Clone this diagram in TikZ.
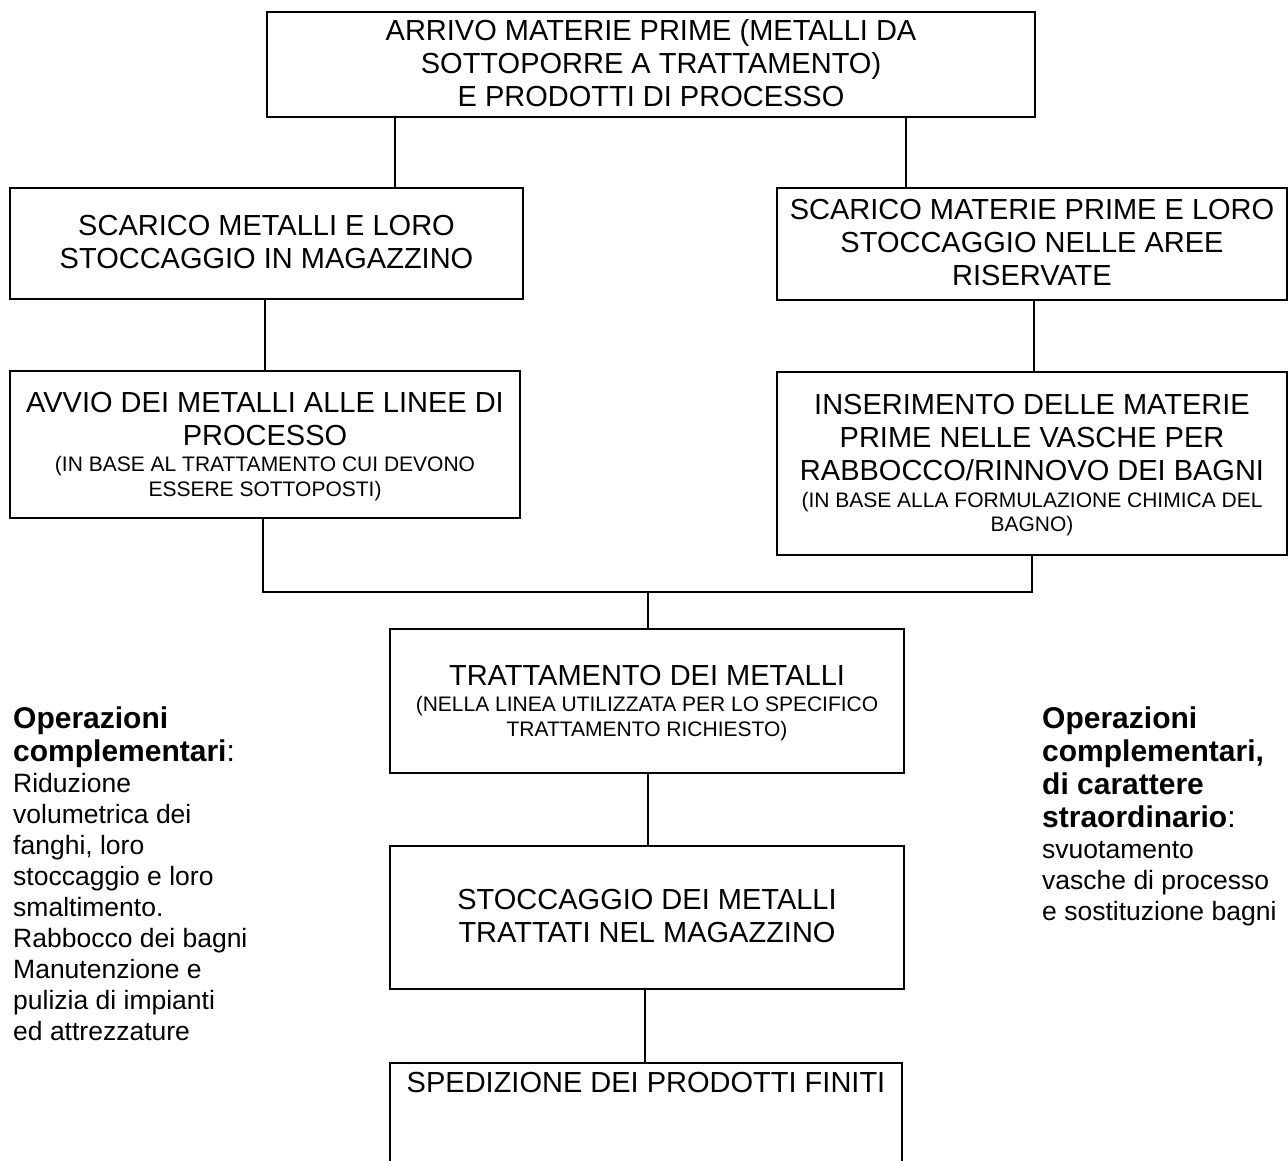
\documentclass[tikz,border=0pt]{standalone}
\usepackage{fontspec}
\setmainfont{Liberation Sans}
\usepackage{array}
\renewcommand{\arraystretch}{0}
\newcommand\mainf{\fontsize{29}{33}\selectfont}
\newcommand\smallf{\fontsize{21}{24.5}\selectfont}
\newcommand\ML[1]{\mainf\rule[-8pt]{0pt}{33pt}#1}
\newcommand\SL[1]{\smallf\rule[-6pt]{0pt}{24.5pt}#1}
\newcommand\BLn[1]{\fontsize{30}{33}\selectfont\rule[-8pt]{0pt}{33pt}#1}
\newcommand\RLn[1]{\fontsize{26.5}{31}\selectfont\rule[-8pt]{0pt}{31pt}#1}
\newcommand\stackc[1]{\begin{tabular}{@{}c@{}}#1\end{tabular}}
\newcommand\stackl[1]{\begin{tabular}{@{}l@{}}#1\end{tabular}}
\tikzset{
  box/.style={draw, line width=1.5pt, rectangle, inner sep=0pt, align=center},
  conn/.style={line width=1.1pt},
  side/.style={anchor=north west, inner sep=0pt, align=left}
}
\begin{document}
\begin{tikzpicture}[x=1pt,y=-1pt]
\useasboundingbox (0,0) rectangle (1288,1160);
\clip (0,0) rectangle (1288,1160);
\fill[white] (0,0) rectangle (1288,1160);

\node[box, minimum width=768pt, minimum height=105pt] (top) at (651,64.5)
  {\stackc{\ML{ARRIVO MATERIE PRIME (METALLI DA}\\\ML{SOTTOPORRE A TRATTAMENTO)}\\\ML{E PRODOTTI DI PROCESSO}}};
\node[box, minimum width=513pt, minimum height=111pt] (L2) at (266.5,243.5)
  {\stackc{\ML{SCARICO METALLI E LORO}\\\ML{STOCCAGGIO IN MAGAZZINO}}};
\node[box, minimum width=510pt, minimum height=112pt] (R2) at (1032,244)
  {\stackc{\ML{SCARICO MATERIE PRIME E LORO}\\\ML{STOCCAGGIO NELLE AREE}\\\ML{RISERVATE}}};
\node[box, minimum width=510pt, minimum height=147pt] (L3) at (265,444.5)
  {\stackc{\ML{AVVIO DEI METALLI ALLE LINEE DI}\\\ML{PROCESSO}\\\SL{(IN BASE AL TRATTAMENTO CUI DEVONO}\\\SL{ESSERE SOTTOPOSTI)}}};
\node[box, minimum width=510pt, minimum height=183pt] (R3) at (1032,463.5)
  {\stackc{\ML{INSERIMENTO DELLE MATERIE}\\\ML{PRIME NELLE VASCHE PER}\\\ML{RABBOCCO/RINNOVO DEI BAGNI}\\\SL{(IN BASE ALLA FORMULAZIONE CHIMICA DEL}\\\SL{BAGNO)}}};
\node[box, minimum width=514pt, minimum height=144pt] (C) at (647,701)
  {\stackc{\ML{TRATTAMENTO DEI METALLI}\\\SL{(NELLA LINEA UTILIZZATA PER LO SPECIFICO}\\\SL{TRATTAMENTO RICHIESTO)}}};
\node[box, minimum width=514pt, minimum height=143pt] (S) at (647,917.5)
  {\stackc{\ML{STOCCAGGIO DEI METALLI}\\\ML{TRATTATI NEL MAGAZZINO}}};
\node[box, minimum width=512pt, inner ysep=5pt, anchor=north] (P) at (646,1062)
  {\stackc{\ML{SPEDIZIONE DEI PRODOTTI FINITI}\\\rule{0pt}{90pt}}};

\coordinate (a1) at (395,0);
\coordinate (a2) at (906,0);
\coordinate (a3) at (265,0);
\coordinate (a4) at (1034,0);
\coordinate (jl) at (263,592);
\coordinate (jr) at (1032,592);
\coordinate (jc) at (648,592);
\coordinate (a5) at (648,0);
\coordinate (a6) at (645,0);

\draw[conn] (top.south -| a1) -- (L2.north -| a1);
\draw[conn] (top.south -| a2) -- (R2.north -| a2);
\draw[conn] (L2.south -| a3) -- (L3.north -| a3);
\draw[conn] (R2.south -| a4) -- (R3.north -| a4);
\draw[conn] (L3.south -| jl) -- (jl) -- (jr) -- (R3.south -| jr);
\draw[conn] (jc) -- (C.north -| jc);
\draw[conn] (C.south -| a5) -- (S.north -| a5);
\draw[conn] (S.south -| a6) -- (P.north -| a6);

\node[side] (opl) at (13,703)
  {\stackl{\BLn{\textbf{Operazioni}}\\\BLn{\textbf{complementari}:}\\\RLn{Riduzione}\\\RLn{volumetrica dei}\\\RLn{fanghi, loro}\\\RLn{stoccaggio e loro}\\\RLn{smaltimento.}\\\RLn{Rabbocco dei bagni}\\\RLn{Manutenzione e}\\\RLn{pulizia di impianti}\\\RLn{ed attrezzature}}};
\node[side] (opr) at (1042,703)
  {\stackl{\BLn{\textbf{Operazioni}}\\\BLn{\textbf{complementari,}}\\\BLn{\textbf{di carattere}}\\\BLn{\textbf{straordinario}:}\\\RLn{svuotamento}\\\RLn{vasche di processo}\\\RLn{e sostituzione bagni}}};
\end{tikzpicture}
\end{document}
